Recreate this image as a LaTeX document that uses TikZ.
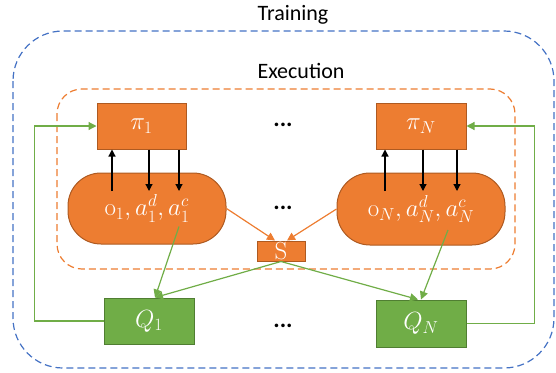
\documentclass[tikz,border=0pt]{standalone}
\usepackage[no-math]{fontspec}
\setmainfont{Carlito}
\usetikzlibrary{arrows.meta}
\definecolor{orfill}{HTML}{ED7D31}
\definecolor{ordraw}{HTML}{AE5A21}
\definecolor{grfill}{HTML}{70AD47}
\definecolor{grdraw}{HTML}{507E32}
\definecolor{bldash}{HTML}{4472C4}
\tikzset{
  obox/.style={draw=ordraw, fill=orfill, line width=1pt, text=white, minimum width=89pt, minimum height=46pt, inner sep=0pt, font=\fontsize{26}{30}\selectfont},
  gbox/.style={draw=grdraw, fill=grfill, line width=1pt, text=white, minimum width=90pt, minimum height=46pt, inner sep=0pt, font=\fontsize{23}{27}\selectfont},
  pill/.style={draw=ordraw, fill=orfill, line width=1pt, text=white, rounded corners=33pt, minimum height=71pt, inner sep=0pt, font=\fontsize{26}{30}\selectfont},
  lbl/.style={font=\fontsize{22}{26}\selectfont, inner sep=0pt},
  dotsn/.style={font=\fontsize{24}{28}\selectfont\bfseries, inner sep=0pt},
  blk/.style={draw=black, line width=1.2pt, -{Triangle[length=7pt,width=7pt]}},
  ora/.style={draw=orfill, line width=1.2pt, -{Triangle[length=8pt,width=8pt]}},
  gra/.style={draw=grfill, line width=1.2pt, -{Triangle[length=8pt,width=8pt]}},
}
\begin{document}
\begin{tikzpicture}[x=1pt,y=-1pt]
\useasboundingbox (0,0) rectangle (556,372);
% frames
\draw[bldash, line width=1.2pt, dash pattern=on 7pt off 4pt, rounded corners=50pt] (13,31) rectangle (554,368);
\draw[orfill, line width=1.2pt, dash pattern=on 7pt off 4pt, rounded corners=25pt] (57,89) rectangle (515,269);
\node[lbl] (train) at (293,15) {Training};
\node[lbl] (exec) at (301,71) {Execution};
% nodes
\node[obox] (pi1) at (141.5,126) {$\pi_1$};
\node[obox, minimum width=90pt] (piN) at (421,126) {$\pi_N$};
\node[pill, minimum width=158pt] (o1) at (147,208.5) {\raisebox{-6pt}{$\mathrm{o}_1, a_1^d, a_1^c$}};
\node[pill, minimum width=168pt, minimum height=72pt] (oN) at (421,209) {\raisebox{-6pt}{$\mathrm{o}_N, a_N^d, a_N^c$}};
\node[obox, minimum width=48pt, minimum height=20pt, font=\fontsize{24}{28}\selectfont] (S) at (281,251) {$\mathrm{S}$};
\node[gbox] (Q1) at (149,321) {$Q_1$};
\node[gbox, minimum height=47pt] (QN) at (421,323.5) {$Q_N$};
\node[dotsn] (d1) at (283,125) {...};
\node[dotsn] (d2) at (283,208) {...};
\node[dotsn] (d3) at (283,326) {...};
% black arrows
\coordinate (u1) at (112,191);
\coordinate (a1) at (149,191);
\coordinate (b1) at (179,191);
\draw[blk] (u1) -- (u1 |- pi1.south);
\draw[blk] (a1 |- pi1.south) -- (a1);
\draw[blk] (b1 |- pi1.south) -- (b1);
\coordinate (uN) at (385,191);
\coordinate (aN) at (423,191);
\coordinate (bN) at (457,191);
\draw[blk] (uN) -- (uN |- piN.south);
\draw[blk] (aN |- piN.south) -- (aN);
\draw[blk] (bN |- piN.south) -- (bN);
% orange arrows to S
\draw[ora] (o1.east) -- ([xshift=-6pt]S.north);
\draw[ora] (oN.west) -- ([xshift=6pt]S.north);
% green arrows
\draw[gra] ([shift={(32,18)}]o1.center) -- ([xshift=6pt]Q1.north);
\draw[gra] (S.south) -- ([xshift=6pt]Q1.north);
\draw[gra] ([shift={(27,21)}]oN.center) -- (QN.north);
\draw[gra] (S.south) -- ([xshift=-3pt]QN.north);
% feedback
\draw[gra] (Q1.west) -- ++(-69,0) |- (pi1.west);
\draw[gra] (QN.east) -- ++(68,0) |- (piN.east);
\end{tikzpicture}
\end{document}
